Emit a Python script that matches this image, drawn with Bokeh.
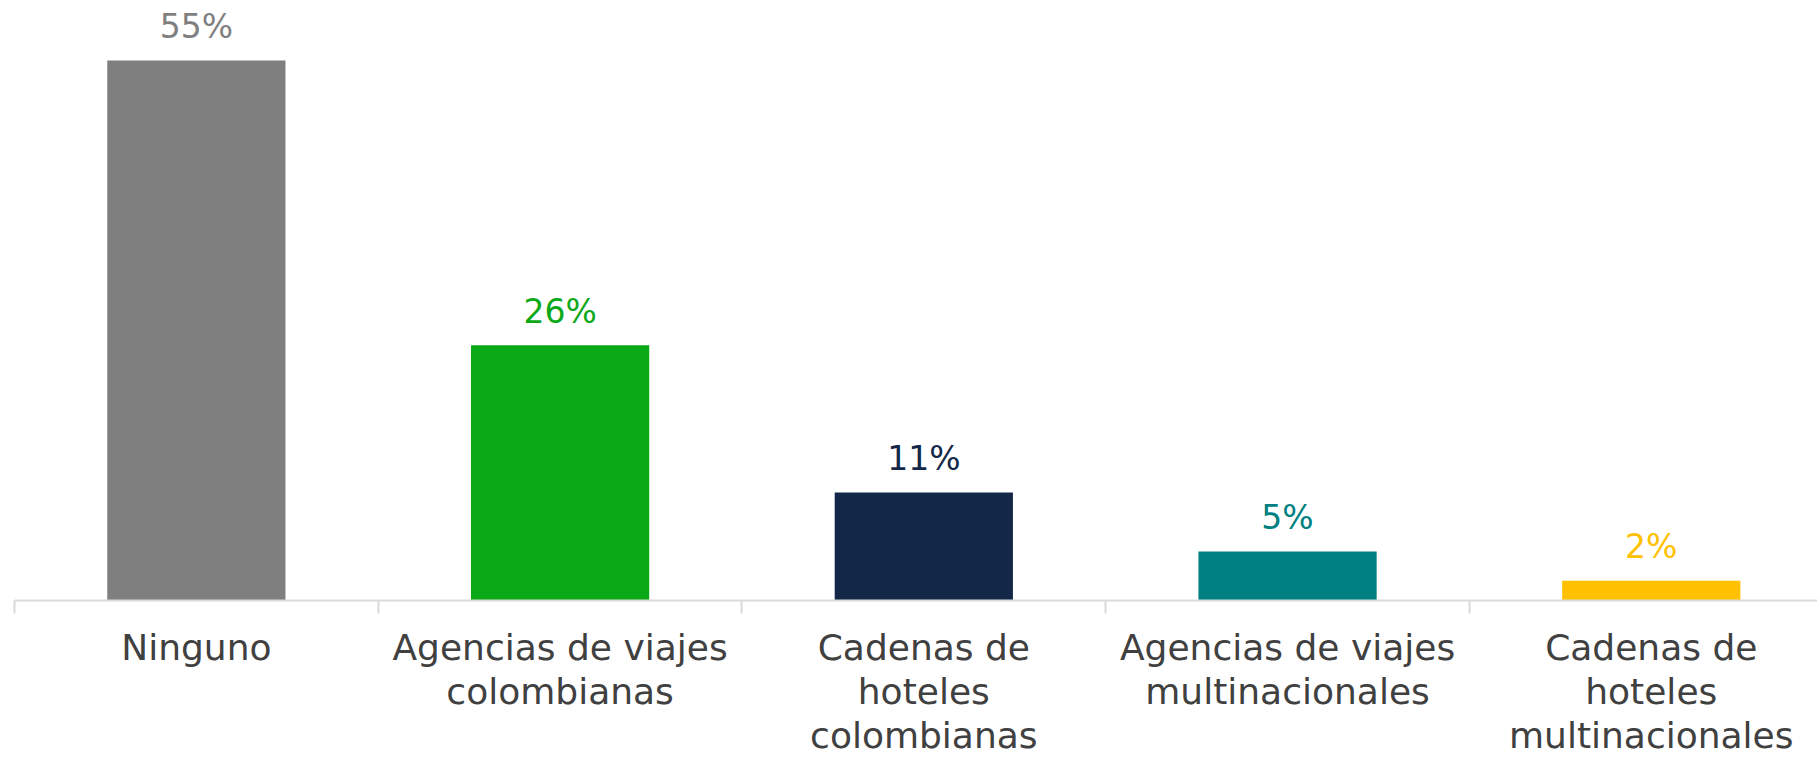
from bokeh.plotting import figure
from bokeh.models import FixedTicker, Range1d
from bokeh.layouts import column
from bokeh.core.properties import value
from bokeh.embed import file_html
from bokeh.resources import INLINE

categories = [
    "Ninguno",
    "Agencias de viajes\ncolombianas",
    "Cadenas de\nhoteles\ncolombianas",
    "Agencias de viajes\nmultinacionales",
    "Cadenas de\nhoteles\nmultinacionales",
]
values = [55, 26, 11, 5, 2]
value_labels = ["55%", "26%", "11%", "5%", "2%"]
colors = ["#7f7f7f", "#0ba818", "#132849", "#008080", "#ffc000"]

FONT = "DejaVu Sans"
positions = [i + 0.5 for i in range(len(categories))]

W = 1817
TOP_H, BOTTOM_H = 614, 144
BORDER_LEFT = 14
X_END, Y_END = 4.957, 61.1

# --- bars + axis ---
p = figure(
    width=W, height=TOP_H,
    x_range=Range1d(0, X_END), y_range=Range1d(0, Y_END),
    output_backend="svg", toolbar_location=None,
    y_axis_location=None,
    min_border_left=BORDER_LEFT, min_border_right=0, min_border_top=0,
    min_border_bottom=TOP_H - 600,
)
p.outline_line_color = None
p.xgrid.visible = False
p.ygrid.visible = False
p.background_fill_color = "white"
p.border_fill_color = "white"

p.vbar(x=positions, top=values, width=0.49, bottom=0, fill_color=colors, line_color=None)
p.text(x=positions, y=values, text=value_labels, text_color=colors,
       text_align="center", text_baseline="middle", y_offset=-34,
       text_font=value(FONT), text_font_size="33px")

ax = p.xaxis[0]
ax.ticker = FixedTicker(ticks=positions, minor_ticks=list(range(len(categories) + 1)))
ax.major_label_overrides = {pos: "" for pos in positions}
ax.major_label_text_font_size = "0px"
ax.major_label_standoff = 0
ax.major_tick_out = 0
ax.major_tick_in = 0
ax.minor_tick_out = 13
ax.minor_tick_in = 0
ax.minor_tick_line_color = "#d9d9d9"
ax.minor_tick_line_width = 2
ax.axis_line_color = "#d9d9d9"
ax.axis_line_width = 2

# --- category labels strip ---
q = figure(
    width=W, height=BOTTOM_H,
    x_range=p.x_range, y_range=Range1d(-BOTTOM_H, 0),
    output_backend="svg", toolbar_location=None,
    x_axis_location=None, y_axis_location=None,
    min_border_left=BORDER_LEFT, min_border_right=0, min_border_top=0,
    min_border_bottom=0,
)
q.outline_line_color = None
q.xgrid.visible = False
q.ygrid.visible = False
q.background_fill_color = "white"
q.border_fill_color = "white"
q.text(x=positions, y=[-12] * len(positions), text=categories,
       text_align="center", text_baseline="top",
       text_font=value(FONT), text_font_size="36px", text_color="#404040",
       text_line_height=1.08)

layout = column(p, q, spacing=0)
open("out.html", "w").write(file_html(layout, INLINE))
